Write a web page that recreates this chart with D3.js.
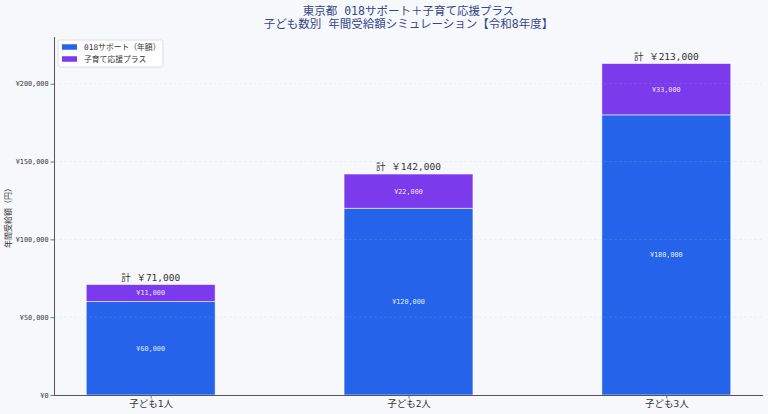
<!DOCTYPE html>
<html>
<head>
<meta charset="utf-8">
<script src="https://cdn.jsdelivr.net/npm/d3@7"></script>
<style>
    body { margin: 0; background: #f7f8fc; }
    svg text { font-family: "DejaVu Sans Mono", "Noto Sans CJK JP", sans-serif; }
</style>
</head>
<body>
<div id="main"></div>
<script>
const ctx = {
    w: 768,
    h: 414,
    margin: { top: 37, right: 5, bottom: 19, left: 54 },
    blue: "#2563eb",
    purple: "#7c3aed",
    textColor: "#333333",
    titleColor: "#34478a"
};

// data
const categories = ["子ども1人", "子ども2人", "子ども3人"];
const support018 = [60000, 120000, 180000];
const kosodatePlus = [11000, 22000, 33000];
const seriesNames = ["018サポート（年額）", "子育て応援プラス"];
const yTicks = [0, 50000, 100000, 150000, 200000];

const fmt = d3.format(",");

function createViz() {
    let svgEl = d3.select("#main").append("svg")
        .attr("width", ctx.w)
        .attr("height", ctx.h);
    svgEl.append("rect")
        .attr("width", "100%")
        .attr("height", "100%")
        .attr("fill", "#f7f8fc");

    const m = ctx.margin;
    const iw = ctx.w - m.left - m.right;
    const ih = ctx.h - m.top - m.bottom;

    const totals = categories.map((c, i) => support018[i] + kosodatePlus[i]);

    // matplotlib-like x limits: bars of width 0.5 plus 5% margin
    const x = d3.scaleLinear().domain([-0.375, 2.375]).range([0, iw]);
    const bw = x(0.5) - x(0);
    const y = d3.scaleLinear().domain([0, d3.max(totals) * 1.08]).range([ih, 0]);

    const g = svgEl.append("g").attr("transform", `translate(${m.left},${m.top})`);

    // stacked bars
    const rows = categories.map((c, i) => ({ i: i, a: support018[i], b: kosodatePlus[i] }));
    const barG = g.append("g").attr("id", "bars");
    barG.selectAll("rect.base")
        .data(rows)
        .enter()
        .append("rect")
        .attr("class", "base")
        .attr("x", d => x(d.i) - bw / 2)
        .attr("width", bw)
        .attr("y", d => y(d.a))
        .attr("height", d => y(0) - y(d.a))
        .attr("fill", ctx.blue)
        .attr("stroke", "rgba(255,255,255,0.7)")
        .attr("stroke-width", 0.8);
    barG.selectAll("rect.plus")
        .data(rows)
        .enter()
        .append("rect")
        .attr("class", "plus")
        .attr("x", d => x(d.i) - bw / 2)
        .attr("width", bw)
        .attr("y", d => y(d.a + d.b))
        .attr("height", d => y(d.a) - y(d.a + d.b))
        .attr("fill", ctx.purple)
        .attr("stroke", "rgba(255,255,255,0.7)")
        .attr("stroke-width", 0.8);

    // grid (drawn over the bars, faint)
    g.append("g").selectAll("line")
        .data(yTicks.slice(1))
        .enter()
        .append("line")
        .attr("x1", 0)
        .attr("x2", iw)
        .attr("y1", d => y(d))
        .attr("y2", d => y(d))
        .attr("stroke", "#b8bcc8")
        .attr("stroke-opacity", 0.3)
        .attr("stroke-width", 0.6)
        .attr("stroke-dasharray", "3,2");

    // segment labels
    barG.selectAll("text.lblA")
        .data(rows)
        .enter()
        .append("text")
        .attr("x", d => x(d.i))
        .attr("y", d => y(d.a / 2))
        .attr("dy", "0.35em")
        .attr("text-anchor", "middle")
        .attr("font-size", 6.8)
        .attr("fill", "#ffffff")
        .attr("fill-opacity", 0.9)
        .text(d => "¥" + fmt(d.a));
    barG.selectAll("text.lblB")
        .data(rows)
        .enter()
        .append("text")
        .attr("x", d => x(d.i))
        .attr("y", d => y(d.a + d.b / 2))
        .attr("dy", "0.35em")
        .attr("text-anchor", "middle")
        .attr("font-size", 6.8)
        .attr("fill", "#ffffff")
        .attr("fill-opacity", 0.9)
        .text(d => "¥" + fmt(d.b));

    // totals
    barG.selectAll("text.total")
        .data(rows)
        .enter()
        .append("text")
        .attr("x", d => x(d.i))
        .attr("y", d => y(d.a + d.b) - 4)
        .attr("text-anchor", "middle")
        .attr("font-size", 9.5)
        .attr("fill", ctx.textColor)
        .text(d => "計 ￥" + fmt(d.a + d.b));

    // axes
    const yAxis = g.append("g")
        .call(d3.axisLeft(y).tickValues(yTicks).tickSize(3.5).tickPadding(2)
            .tickFormat(d => "¥" + fmt(d)));
    yAxis.selectAll("text").attr("font-size", 6.8).attr("fill", ctx.textColor);
    const xAxis = g.append("g")
        .attr("transform", `translate(0,${ih})`)
        .call(d3.axisBottom(x).tickValues([0, 1, 2]).tickSize(3.5).tickPadding(2)
            .tickFormat(i => categories[i]));
    xAxis.selectAll("text").attr("font-size", 9.5).attr("fill", ctx.textColor);
    [yAxis, xAxis].forEach(a => {
        a.select(".domain").attr("stroke", "#555").attr("stroke-width", 1);
        a.selectAll(".tick line").attr("stroke", "#555").attr("stroke-width", 0.8);
    });
    yAxis.select(".domain").attr("d", `M0.5,0V${ih}`);
    xAxis.select(".domain").attr("d", `M0,0.5H${iw}`);

    // y label
    svgEl.append("text")
        .attr("transform", `translate(11,${m.top + ih / 2}) rotate(-90)`)
        .attr("text-anchor", "middle")
        .attr("font-size", 8)
        .attr("fill", ctx.textColor)
        .text("年間受給額（円）");

    // title
    const tx = m.left + iw / 2;
    svgEl.append("text")
        .attr("x", tx).attr("y", 15)
        .attr("text-anchor", "middle")
        .attr("font-size", 11.5)
        .attr("fill", ctx.titleColor)
        .text("東京都 018サポート＋子育て応援プラス");
    svgEl.append("text")
        .attr("x", tx).attr("y", 28)
        .attr("text-anchor", "middle")
        .attr("font-size", 11.5)
        .attr("fill", ctx.titleColor)
        .text("子ども数別 年間受給額シミュレーション【令和8年度】");

    // legend
    const lg = svgEl.append("g").attr("transform", "translate(58,40)");
    lg.append("rect")
        .attr("width", 105).attr("height", 27).attr("rx", 2)
        .attr("fill", "#ffffff").attr("fill-opacity", 0.8)
        .attr("stroke", "#d6d8de").attr("stroke-width", 0.8);
    const colors = [ctx.blue, ctx.purple];
    lg.selectAll("g.item")
        .data(seriesNames)
        .enter()
        .append("g")
        .attr("transform", (d, i) => `translate(4,${7 + i * 12})`)
        .each(function (d, i) {
            let it = d3.select(this);
            it.append("rect").attr("width", 15).attr("height", 5.5).attr("y", -2.75)
                .attr("fill", colors[i]);
            it.append("text").attr("x", 22).attr("dy", "0.35em")
                .attr("font-size", 7.8).attr("fill", ctx.textColor).text(d);
        });
}

createViz();
</script>
</body>
</html>
